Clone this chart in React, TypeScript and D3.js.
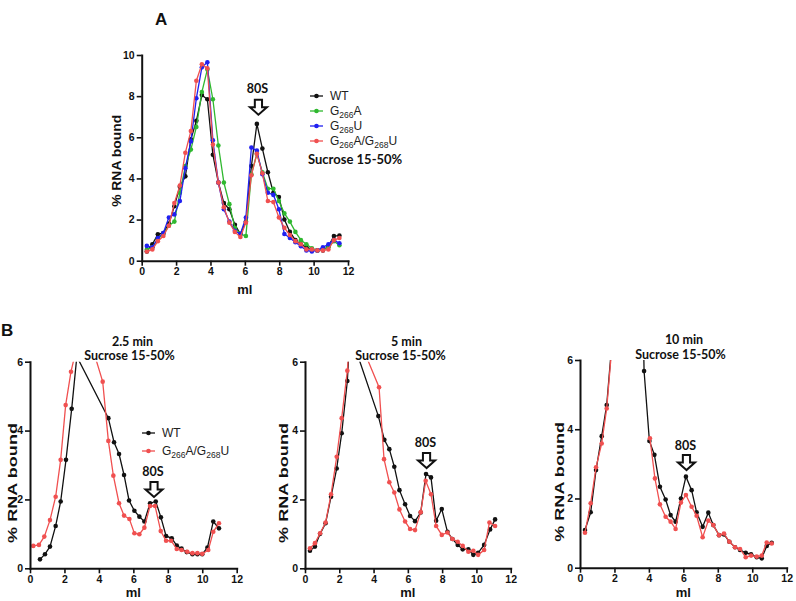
import React, { useRef, useEffect } from "react";
import * as d3 from "d3";

// Panel A: fraction volumes (ml) and % RNA bound per construct
const A_ML = [0.3, 0.62, 0.94, 1.26, 1.58, 1.9, 2.22, 2.54, 2.86, 3.18, 3.5, 3.82, 4.14, 4.46, 4.78, 5.1, 5.42, 5.74, 6.06, 6.38, 6.7, 7.02, 7.34, 7.66, 7.98, 8.3, 8.62, 8.94, 9.26, 9.58, 9.9, 10.22, 10.54, 10.86, 11.18, 11.5];
const A_WT = [0.45, 0.8, 1.28, 1.35, 1.8, 2.65, 3.6, 4.1, 5.9, 6.8, 8.05, 7.85, 5.15, 3.8, 2.8, 2.5, 1.75, 1.3, 1.9, 4.6, 6.65, 5.45, 4.3, 3.3, 3.1, 2.0, 1.4, 1.0, 0.8, 0.65, 0.55, 0.5, 0.5, 0.7, 1.2, 1.22];
const A_G266A = [0.55, 0.65, 1.05, 1.3, 1.7, 1.9, 3.3, 4.6, 5.4, 6.5, 8.2, 9.3, 7.85, 5.6, 3.8, 2.75, 1.6, 1.3, 1.2, 4.2, 5.2, 4.3, 3.5, 3.5, 2.9, 2.3, 1.9, 1.4, 1.0, 0.8, 0.6, 0.5, 0.55, 0.65, 0.95, 0.75];
const A_G268U = [0.72, 0.65, 1.1, 1.35, 2.1, 2.25, 2.9, 4.5, 5.8, 7.9, 9.4, 9.65, 5.85, 3.8, 2.5, 1.9, 1.45, 1.3, 2.1, 5.5, 5.35, 4.2, 3.3, 3.2, 2.5, 1.3, 1.1, 0.9, 0.7, 0.5, 0.45, 0.5, 0.65, 0.8, 1.0, 0.85];
const A_DOUBLE = [0.45, 0.55, 0.95, 1.2, 1.7, 2.8, 3.65, 5.25, 6.3, 8.75, 9.55, 9.35, 5.65, 3.8, 2.6, 1.85, 1.4, 1.15, 1.85, 4.15, 5.2, 4.25, 2.9, 2.85, 2.1, 1.6, 1.25, 0.95, 0.8, 0.55, 0.55, 0.5, 0.5, 0.55, 1.0, 1.1];

// Panel B, 2.5 min
const B1_WT_ML = [0.58, 0.87, 1.16, 1.49, 1.78, 2.09, 2.42, 2.72, 4.55, 4.88, 5.17, 5.46, 5.75, 6.06, 6.35, 6.64, 6.97, 7.3, 7.6, 7.9, 8.23, 8.52, 8.8, 9.1, 9.43, 9.72, 10.0, 10.3, 10.64, 10.97];
const B1_WT = [0.26, 0.41, 0.63, 1.23, 1.94, 3.15, 4.63, 6.15, 4.36, 3.66, 3.32, 2.71, 1.97, 1.67, 1.5, 1.36, 1.89, 1.94, 1.48, 0.94, 0.87, 0.66, 0.57, 0.47, 0.41, 0.41, 0.41, 0.6, 1.36, 1.16];
const B1_DB_ML = [0.19, 0.52, 0.83, 1.16, 1.49, 1.78, 2.07, 2.38, 2.7, 3.0, 3.3, 3.58, 4.22, 4.55, 4.84, 5.17, 5.46, 5.77, 6.06, 6.35, 6.64, 6.97, 7.26, 7.59, 7.9, 8.19, 8.52, 8.8, 9.13, 9.43, 9.72, 10.0, 10.35, 10.64, 10.97];
const B1_DB = [0.65, 0.68, 0.92, 1.4, 2.08, 3.15, 4.74, 5.71, 6.4, 8, 8, 6.48, 5.42, 3.7, 2.69, 1.89, 1.53, 1.43, 1.02, 0.99, 1.18, 1.81, 1.81, 1.08, 0.8, 0.8, 0.56, 0.53, 0.48, 0.44, 0.44, 0.42, 0.53, 1.06, 1.31];

// Panel B, 5 min
const B2_WT_ML = [0.29, 0.58, 0.88, 1.2, 1.52, 1.85, 2.14, 2.47, 2.8, 3.1, 4.28, 4.63, 4.92, 5.21, 5.51, 5.84, 6.13, 6.42, 6.75, 7.06, 7.35, 7.65, 7.98, 8.31, 8.6, 8.91, 9.2, 9.53, 9.82, 10.1, 10.45, 10.8, 11.09];
const B2_WT = [0.51, 0.63, 1.0, 1.31, 2.08, 2.9, 3.92, 5.44, 8.5, 6.15, 4.42, 3.73, 3.46, 2.95, 2.27, 1.86, 1.52, 1.37, 1.62, 2.74, 2.64, 1.38, 1.72, 1.06, 0.85, 0.68, 0.55, 0.55, 0.39, 0.45, 0.68, 1.13, 1.42];
const B2_DB_ML = [0.29, 0.58, 0.88, 1.2, 1.52, 1.85, 2.14, 2.47, 2.8, 3.1, 3.4, 4.32, 4.61, 4.92, 5.21, 5.51, 5.84, 6.13, 6.42, 6.75, 7.04, 7.35, 7.65, 7.98, 8.31, 8.6, 8.91, 9.2, 9.53, 9.82, 10.1, 10.45, 10.76, 11.09];
const B2_DB = [0.58, 0.73, 1.02, 1.33, 2.15, 3.24, 4.36, 5.74, 8, 8.5, 6.36, 5.26, 3.17, 2.5, 2.2, 1.71, 1.36, 1.14, 1.11, 1.63, 2.54, 2.15, 1.23, 0.97, 1.04, 0.85, 0.77, 0.65, 0.48, 0.51, 0.39, 0.53, 1.33, 1.23];

// Panel B, 10 min
const B3_WT_ML = [0.29, 0.62, 0.93, 1.26, 1.55, 1.87, 2.2, 2.5, 2.8, 3.1, 3.4, 3.72, 4.03, 4.32, 4.64, 4.97, 5.26, 5.55, 5.86, 6.15, 6.48, 6.77, 7.12, 7.45, 7.74, 8.07, 8.36, 8.67, 9.0, 9.29, 9.62, 9.93, 10.26, 10.55, 10.84, 11.13];
const B3_WT = [1.09, 1.6, 2.82, 3.8, 4.7, 6.6, 9, 11, 12, 12, 14, 5.68, 3.66, 3.26, 2.34, 1.97, 1.52, 1.33, 2.0, 2.63, 2.24, 1.6, 1.18, 1.59, 1.23, 0.94, 0.96, 0.75, 0.59, 0.51, 0.43, 0.39, 0.3, 0.27, 0.63, 0.72];
const B3_DB_ML = [0.29, 0.62, 0.93, 1.26, 1.55, 1.87, 3.0, 4.06, 4.35, 4.64, 4.97, 5.26, 5.55, 5.86, 6.15, 6.48, 6.77, 7.12, 7.45, 7.74, 8.07, 8.36, 8.67, 9.0, 9.29, 9.62, 9.93, 10.26, 10.55, 10.84, 11.13];
const B3_DB = [1.01, 1.86, 2.9, 3.59, 4.6, 6.5, null, 3.74, 2.58, 1.83, 1.47, 1.33, 1.12, 1.88, 2.1, 1.76, 1.5, 0.88, 1.36, 1.23, 0.94, 0.99, 0.75, 0.59, 0.54, 0.3, 0.35, 0.32, 0.35, 0.73, 0.7];

const X_TICKS = [0, 2, 4, 6, 8, 10, 12];
const A_Y_TICKS = [0, 2, 4, 6, 8, 10];
const B_Y_TICKS = [0, 2, 4, 6];

const BLACK = "#111";
const GREEN = "#2fb82f";
const BLUE = "#2020f0";
const RED = "#f05050";

const ARIAL = "'Liberation Sans', Arial, sans-serif";
const CALIBRI = "Lato, 'Open Sans', sans-serif";

type Frame = { left: number; top: number; right: number; bottom: number };
type Series = { ml: number[]; val: (number | null)[]; color: string };

function zip(ml: number[], val: (number | null)[]) {
  return ml.map((m, i) => ({ m, v: val[i] }));
}

function Axes({ x, y, yTicks }: { x: any; y: any; yTicks: number[] }) {
  const gx = useRef<SVGGElement>(null);
  const gy = useRef<SVGGElement>(null);

  useEffect(() => {
    const style = (sel: any) => {
      sel.select(".domain").attr("stroke", "#111").attr("stroke-width", 2).attr("stroke-linecap", "square");
      sel.selectAll(".tick line").attr("stroke", "#111").attr("stroke-width", 1.6);
      sel
        .selectAll(".tick text")
        .attr("font-family", ARIAL)
        .attr("font-weight", "bold")
        .attr("font-size", 10.5)
        .attr("fill", "#111");
    };
    const fmt = d3.format("d");
    const bx = d3.select(gx.current!);
    bx.selectAll("*").remove();
    bx.attr("transform", `translate(0,${y.range()[0]})`)
      .call(d3.axisBottom(x).tickValues(X_TICKS).tickFormat(fmt).tickSize(5).tickSizeOuter(0).tickPadding(2));
    style(bx);

    const ly = d3.select(gy.current!);
    ly.selectAll("*").remove();
    ly.attr("transform", `translate(${x.range()[0]},0)`)
      .call(d3.axisLeft(y).tickValues(yTicks).tickFormat(fmt).tickSize(5).tickSizeOuter(0).tickPadding(2));
    style(ly);
  }, [x, y, yTicks]);

  return (
    <g>
      <g ref={gx} />
      <g ref={gy} />
    </g>
  );
}

// open down-pointing arrow, tip at (0,0)
const ARROW_PATH = "M0,0 L-8.5,-7.5 L-3.6,-7.5 L-3.6,-15 L3.6,-15 L3.6,-7.5 L8.5,-7.5 Z";

function Marker80S({ cx, tip, textY }: { cx: number; tip: number; textY: number }) {
  return (
    <g>
      <path d={ARROW_PATH} transform={`translate(${cx},${tip})`} fill="#fff" stroke="#111" strokeWidth={2} strokeLinejoin="miter" />
      <text x={cx - 1} y={textY} textAnchor="middle" fontFamily={CALIBRI} fontWeight="bold" fontSize={12.5} fill="#111">
        80S
      </text>
    </g>
  );
}

function Traces({ series, x, y, clip }: { series: Series[]; x: any; y: any; clip?: string }) {
  const line = d3
    .line<{ m: number; v: number | null }>()
    .defined((d) => d.v != null)
    .x((d) => x(d.m))
    .y((d) => y(d.v as number));
  return (
    <g clipPath={clip ? `url(#${clip})` : undefined}>
      {series.map((s, i) => {
        const pts = zip(s.ml, s.val);
        return (
          <g key={i}>
            <path d={line(pts) || ""} fill="none" stroke={s.color} strokeWidth={1.3} />
            {pts
              .filter((d) => d.v != null)
              .map((d, j) => (
                <circle key={j} cx={x(d.m)} cy={y(d.v as number)} r={2.3} fill={s.color} />
              ))}
          </g>
        );
      })}
    </g>
  );
}

function LegendRow({ x, y, color, parts }: { x: number; y: number; color: string; parts: [string, boolean][] }) {
  return (
    <g>
      <line x1={x} x2={x + 13} y1={y} y2={y} stroke={color} strokeWidth={1.3} />
      <circle cx={x + 6.5} cy={y} r={2.3} fill={color} />
      <text x={x + 20} y={y + 4} fontFamily={ARIAL} fontSize={12} fill="#222">
        {parts.map(([t, sub], i) => (
          <tspan key={i} fontSize={sub ? 8.5 : 12} dy={sub ? 3 : i > 0 ? -3 : 0}>
            {t}
          </tspan>
        ))}
      </text>
    </g>
  );
}

const L_WT: [string, boolean][] = [["WT", false]];
const L_G266A: [string, boolean][] = [["G", false], ["266", true], ["A", false]];
const L_G268U: [string, boolean][] = [["G", false], ["268", true], ["U", false]];
const L_DOUBLE: [string, boolean][] = [["G", false], ["266", true], ["A/G", false], ["268", true], ["U", false]];

function AxisTitles({ f, len, dx, dy, mlY }: { f: Frame; len: number; dx: number; dy: number; mlY: number }) {
  const cy = (f.top + f.bottom) / 2;
  return (
    <g fontFamily={ARIAL} fontWeight="bold" fill="#111">
      <text x={(f.left + f.right) / 2} y={mlY} textAnchor="middle" fontSize={13}>
        ml
      </text>
      <text
        transform={`translate(${f.left - dx},${cy + dy}) rotate(-90)`}
        textAnchor="middle"
        fontSize={12.5}
        textLength={len}
        lengthAdjust="spacingAndGlyphs"
      >
        % RNA bound
      </text>
    </g>
  );
}

const FRAME_A: Frame = { left: 141.7, top: 55, right: 348, bottom: 260.7 };
const FRAME_B1: Frame = { left: 30, top: 361.7, right: 236.7, bottom: 568.3 };
const FRAME_B2: Frame = { left: 305, top: 361.7, right: 510.7, bottom: 568.3 };
const FRAME_B3: Frame = { left: 580, top: 360, right: 786.7, bottom: 567.7 };

function PanelB({ f, id, series, time, titleX, arrowAt, labelDx }: any) {
  const x = d3.scaleLinear().domain([0, 12]).range([f.left, f.right]);
  const y = d3.scaleLinear().domain([0, 6]).range([f.bottom, f.top]);
  return (
    <g>
      <defs>
        <clipPath id={id}>
          <rect x={f.left} y={f.top} width={f.right - f.left + 4} height={f.bottom - f.top} />
        </clipPath>
      </defs>
      <Traces series={series} x={x} y={y} clip={id} />
      <Axes x={x} y={y} yTicks={B_Y_TICKS} />
      <AxisTitles f={f} len={120} dx={labelDx} dy={18} mlY={f.bottom + 29} />
      <g fontFamily={CALIBRI} fontWeight="bold" fontSize={12.5} fill="#111" textAnchor="middle">
        <text x={titleX[0]} y={f.top - 16}>{time}</text>
        <text x={titleX[1]} y={f.top - 1.5}>Sucrose 15-50%</text>
      </g>
      <Marker80S cx={x(arrowAt[0])} tip={y(arrowAt[1])} textY={y(arrowAt[2])} />
    </g>
  );
}

export default function App() {
  const fa = FRAME_A;
  const xA = d3.scaleLinear().domain([0, 12]).range([fa.left, fa.right]);
  const yA = d3.scaleLinear().domain([0, 10]).range([fa.bottom, fa.top]);

  const seriesA: Series[] = [
    { ml: A_ML, val: A_WT, color: BLACK },
    { ml: A_ML, val: A_G266A, color: GREEN },
    { ml: A_ML, val: A_G268U, color: BLUE },
    { ml: A_ML, val: A_DOUBLE, color: RED },
  ];

  return (
    <svg width={796} height={601} style={{ position: "absolute", left: 0, top: 0, background: "#fff" }}>
      <text x={155} y={25} fontFamily={ARIAL} fontWeight="bold" fontSize={17} fill="#111">A</text>
      <text x={1} y={336} fontFamily={ARIAL} fontWeight="bold" fontSize={17} fill="#111">B</text>

      {/* Panel A */}
      <Traces series={seriesA} x={xA} y={yA} />
      <Axes x={xA} y={yA} yTicks={A_Y_TICKS} />
      <AxisTitles f={fa} len={92} dx={21} dy={3} mlY={fa.bottom + 33} />
      <Marker80S cx={xA(6.79)} tip={yA(7.1)} textY={yA(8.15)} />
      <LegendRow x={310} y={96} color={BLACK} parts={L_WT} />
      <LegendRow x={310} y={111} color={GREEN} parts={L_G266A} />
      <LegendRow x={310} y={126} color={BLUE} parts={L_G268U} />
      <LegendRow x={310} y={141} color={RED} parts={L_DOUBLE} />
      <text x={308} y={164} fontFamily={CALIBRI} fontWeight="bold" fontSize={13} fill="#111">
        Sucrose 15-50%
      </text>

      {/* Panel B */}
      <PanelB
        f={FRAME_B1}
        id="clipB1"
        time="2.5 min"
        titleX={[132.5, 129.5]}
        arrowAt={[7.2, 2.07, 2.67]}
        labelDx={13}
        series={[
          { ml: B1_WT_ML, val: B1_WT, color: BLACK },
          { ml: B1_DB_ML, val: B1_DB, color: RED },
        ]}
      />
      <LegendRow x={142} y={433} color={BLACK} parts={L_WT} />
      <LegendRow x={142} y={451} color={RED} parts={L_DOUBLE} />

      <PanelB
        f={FRAME_B2}
        id="clipB2"
        time="5 min"
        titleX={[406.5, 400.5]}
        arrowAt={[7.09, 2.91, 3.52]}
        labelDx={17}
        series={[
          { ml: B2_WT_ML, val: B2_WT, color: BLACK },
          { ml: B2_DB_ML, val: B2_DB, color: RED },
        ]}
      />

      <PanelB
        f={FRAME_B3}
        id="clipB3"
        time="10 min"
        titleX={[684, 680.5]}
        arrowAt={[6.18, 2.82, 3.4]}
        labelDx={16}
        series={[
          { ml: B3_WT_ML, val: B3_WT, color: BLACK },
          { ml: B3_DB_ML, val: B3_DB, color: RED },
        ]}
      />
    </svg>
  );
}
